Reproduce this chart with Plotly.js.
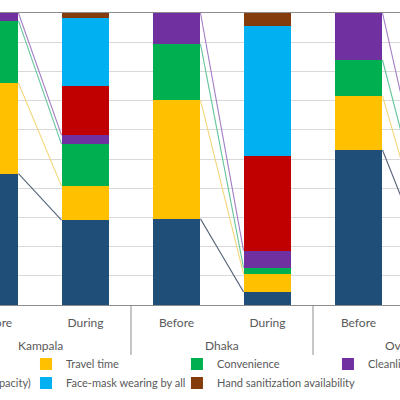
<!DOCTYPE html>
<html>
<head>
<meta charset="utf-8">
<script src="https://cdn.plot.ly/plotly-3.0.1.min.js"></script>
<style>
  html, body { margin: 0; padding: 0; overflow: hidden; background: #fff; width: 400px; height: 400px; }
  #chart { position: absolute; left: -140px; top: 0; width: 740px; height: 400px; }
</style>
</head>
<body>
<div id="chart"></div>
<script>
// ---- data ----
const cities  = ['Kampala', 'Kampala', 'Dhaka', 'Dhaka', 'Overall', 'Overall'];
const periods = ['Before', 'During', 'Before', 'During', 'Before', 'During'];

const seriesNames = [
  'Fare',
  'Travel time',
  'Convenience',
  'Cleanliness',
  'Less crowding (capacity)',
  'Face-mask wearing by all',
  'Hand sanitization availability'
];
const fare          = [45.0, 29.1, 29.5, 4.5, 53.1, 16.0];
const travelTime    = [31.0, 11.6, 40.7, 6.2, 18.5, 5.0];
const convenience   = [21.3, 14.4, 19.2, 2.1, 12.3, 6.0];
const cleanliness   = [2.7, 3.1, 10.6, 5.8, 16.1, 8.0];
const capacity      = [0, 16.9, 0, 32.5, 0, 25.0];
const faceMask      = [0, 23.3, 0, 44.4, 0, 36.0];
const handSanit     = [0, 1.6, 0, 4.5, 0, 4.0];

const seriesValues = [fare, travelTime, convenience, cleanliness, capacity, faceMask, handSanit];
const seriesColors = ['#1F4E79', '#FFC000', '#00B050', '#7030A0', '#C00000', '#00B0F0', '#843C0C'];
const lineColors   = ['#56647a', '#f3d67a', '#63c49a', '#a27cc6'];
const pairStarts   = [0, 2, 4];   // index of each "Before" bar
const linkedSeries = 4;           // first four series have connecting lines

const bargap = 0.473;
const halfW = (1 - bargap) / 2;
const idx = periods.map((_, i) => i);

// ---- traces ----
const traces = [];
seriesValues.forEach((vals, k) => {
  traces.push({
    type: 'bar',
    name: seriesNames[k],
    x: idx,
    y: vals,
    marker: { color: seriesColors[k], line: { width: 0 } },
    hoverinfo: 'skip'
  });
});

// cumulative tops for the series lines
const cum = seriesValues.map((_, k) =>
  idx.map(i => seriesValues.slice(0, k + 1).reduce((s, v) => s + v[i], 0))
);
for (let k = 0; k < linkedSeries; k++) {
  const xs = [], ys = [];
  pairStarts.forEach(i => {
    xs.push(i + halfW, i + 1 - halfW, null);
    ys.push(cum[k][i], cum[k][i + 1], null);
  });
  traces.push({
    type: 'scatter', mode: 'lines',
    x: xs, y: ys, showlegend: false, hoverinfo: 'skip',
    line: { color: lineColors[k], width: 1.1 }
  });
}

// group labels and dividers
const annotations = pairStarts.map(i => ({
  text: cities[i], x: i + 0.5, xref: 'x', y: -0.14, yref: 'paper',
  yanchor: 'middle', showarrow: false, font: { size: 12, color: '#595959' }
}));
const dividerXs = [pairStarts[0] - 0.5].concat(pairStarts.map(i => i + 1.5));
const shapes = dividerXs.map(xv => ({
  type: 'line', xref: 'x', yref: 'paper', x0: xv, x1: xv, y0: 0, y1: -0.171,
  line: { color: '#8c8c8c', width: 1 }
}));

const layout = {
  width: 740, height: 400,
  margin: { l: 89, r: 14, t: 13, b: 95 },
  paper_bgcolor: '#ffffff', plot_bgcolor: '#ffffff',
  barmode: 'stack',
  bargap: bargap,
  font: { family: 'Lato, "Open Sans", sans-serif', color: '#595959', size: 12 },
  xaxis: {
    range: [-0.5, 6.5],
    automargin: false,
    tickvals: idx, ticktext: periods,
    showline: true, mirror: true, linecolor: '#8c8c8c', linewidth: 1,
    showgrid: false, zeroline: false,
    ticks: '', ticklabelstandoff: 7,
    tickfont: { size: 12, color: '#595959' }
  },
  yaxis: {
    range: [0, 100], dtick: 10, ticksuffix: '%', automargin: false,
    showgrid: true, gridcolor: '#d9d9d9', gridwidth: 1,
    zeroline: false, showline: false,
    tickfont: { size: 12, color: '#595959' }
  },
  annotations: annotations,
  shapes: shapes,
  showlegend: true,
  legend: {
    orientation: 'h',
    xref: 'container', x: 0.0405, xanchor: 'left',
    yref: 'container', y: 0.126, yanchor: 'top',
    entrywidth: 121, entrywidthmode: 'pixels',
    indentation: -15,
    font: { size: 11, color: '#595959' },
    traceorder: 'normal',
    bgcolor: 'rgba(0,0,0,0)'
  }
};

Plotly.newPlot('chart', traces, layout, { staticPlot: true, displayModeBar: false });
</script>
</body>
</html>
